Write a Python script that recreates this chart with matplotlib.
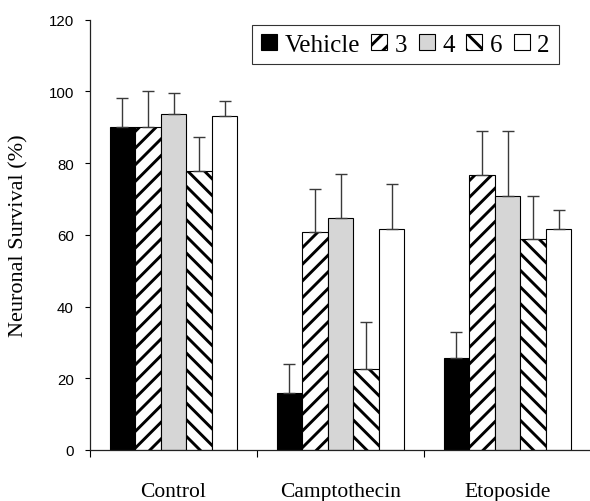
import matplotlib
matplotlib.use("Agg")
import matplotlib.pyplot as plt
import numpy as np

categories = ["Control", "Camptothecin", "Etoposide"]
series = ["Vehicle", "3", "4", "6", "2"]
vehicle = [90.2, 15.9, 25.7]
s3 = [90.0, 60.7, 76.7]
s4 = [93.8, 64.7, 70.8]
s6 = [77.9, 22.6, 58.9]
s2 = [93.2, 61.6, 61.5]
err_vehicle = [8.0, 8.0, 7.1]
err_3 = [10.0, 12.0, 12.2]
err_4 = [5.7, 12.2, 18.1]
err_6 = [9.4, 13.1, 11.9]
err_2 = [4.1, 12.6, 5.3]
yticks = [0, 20, 40, 60, 80, 100, 120]

values = [vehicle, s3, s4, s6, s2]
errors = [err_vehicle, err_3, err_4, err_6, err_2]
faces = ["black", "white", "#d6d6d6", "white", "white"]
hatches = [None, "//", None, "\\\\", None]

plt.rcParams["hatch.linewidth"] = 2.1

fig = plt.figure(figsize=(5.9, 5.02), dpi=100)
ax = fig.add_axes([90 / 590, 1 - 451 / 502, 501 / 590, (451 - 20.7) / 502])

x = np.arange(len(categories))
w = 0.153
handles = []
for i, (vals, errs) in enumerate(zip(values, errors)):
    pos = x + (i - 2) * w
    b = ax.bar(pos, vals, width=w, color=faces[i], edgecolor="black",
               linewidth=0.8, hatch=hatches[i], label=series[i], zorder=2)
    handles.append(b)
    ax.errorbar(pos, vals, yerr=[np.zeros(len(errs)), errs], fmt="none",
                ecolor="#3a3a3a", elinewidth=1.0, capsize=4, capthick=1.0,
                zorder=3)

ax.set_xlim(-0.5, 2.5)
ax.set_ylim(0, 120)
ax.set_yticks(yticks)
ax.set_yticklabels([str(t) for t in yticks], fontfamily="Liberation Sans",
                   fontsize=10.8)
ax.tick_params(axis="y", direction="out", length=3.6, width=0.8, pad=8,
               colors="black")

ax.set_xticks([-0.5, 0.5, 1.5, 2.5])
ax.set_xticklabels([])
ax.tick_params(axis="x", which="major", direction="out", length=5, width=0.8)
ax.set_xticks(x, minor=True)
ax.set_xticklabels(categories, minor=True, fontfamily="Liberation Serif",
                   fontsize=15.5)
ax.tick_params(axis="x", which="minor", length=0, pad=23)

for s in ["top", "right"]:
    ax.spines[s].set_visible(False)
for s in ["left", "bottom"]:
    ax.spines[s].set_linewidth(0.9)
    ax.spines[s].set_color("#222222")

ax.set_ylabel("Neuronal Survival (%)", fontfamily="Liberation Serif",
              fontsize=16)
ax.yaxis.label.set_verticalalignment("center")
ax.yaxis.set_label_coords(-0.142, 0.5)

leg = ax.legend(handles=handles, labels=series, ncol=5, loc="center",
                bbox_to_anchor=(0.629, 0.942), frameon=True, fancybox=False,
                edgecolor="black", handlelength=0.65, handleheight=0.65,
                handletextpad=0.3, columnspacing=0.45, borderpad=0.35,
                prop={"family": "Liberation Serif", "size": 18})
leg.get_frame().set_linewidth(0.8)

fig.savefig("out.png", dpi=100)
